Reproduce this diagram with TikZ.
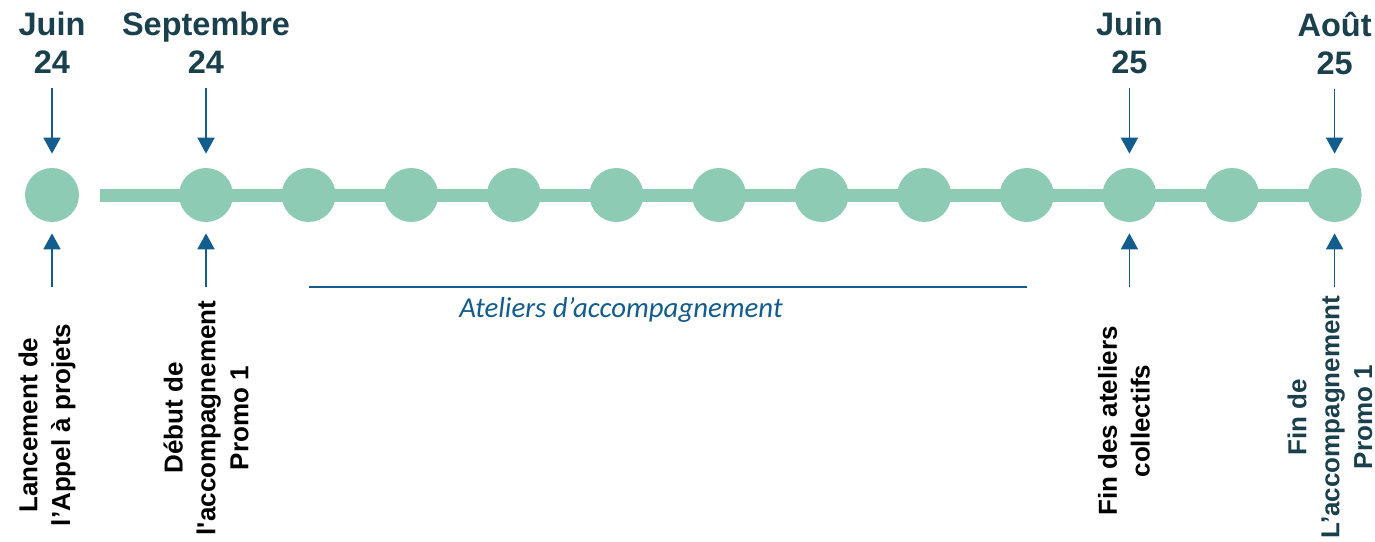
\documentclass[tikz,border=0pt]{standalone}
\usepackage{fontspec}
\setmainfont{Liberation Sans}
\newfontfamily\calibri{Carlito}
\usetikzlibrary{arrows.meta,positioning}
\definecolor{mint}{RGB}{141,203,181}
\definecolor{navy}{RGB}{27,64,77}
\definecolor{steel}{RGB}{18,92,142}
\tikzstyle{jalon} = [circle,fill=mint,inner sep=0,minimum size=1.08cm]
\tikzstyle{barre} = [draw=mint,line width=0.26cm]
\tikzstyle{date} = [font=\fontsize{18.5}{21.5}\selectfont\bfseries,text=navy,align=center,inner sep=0]
\tikzstyle{etape} = [font=\fontsize{14.8}{18.7}\selectfont\bfseries,align=center,rotate=90,inner sep=0]
\tikzstyle{fleche} = [draw=steel,line width=0.035cm,-{Triangle[width=0.34cm,length=0.32cm]}]
\tikzstyle{periode} = [draw=steel,line width=0.055cm]
\tikzstyle{atelier} = [font=\fontsize{16.4}{19}\selectfont\calibri\itshape,text=steel,inner sep=0]
\def \ecart {102.6}

\begin{document}
\begin{tikzpicture}[x=0.02cm,y=-0.02cm]
      \useasboundingbox (0,0) rectangle (1375,541);
      % ligne du temps
      \coordinate (debut) at (100,195);
      \coordinate (fin) at (1335,195);
      \draw[barre] (debut) -- (fin);
      \node[jalon] (m1) at (52,195) {};
      \foreach \i in {2,...,13}
        \node[jalon] (m\i) at ({206+(\i-2)*\ecart},195) {};
      % dates
      \node[date,anchor=north] (d1) at (m1 |- 0,12) {Juin\\24};
      \node[date,anchor=north] (d2) at (m2 |- 0,12) {Septembre\\24};
      \node[date,anchor=north] (d11) at (m11 |- 0,12) {Juin\\25};
      \node[date,anchor=north] (d13) at (m13 |- 0,12) {Août\\25};
      \foreach \i in {1,2,11,13}
        \draw[fleche,shorten <=0.28cm,shorten >=0.28cm] (d\i) -- (m\i);
      % etapes
      \foreach \i in {1,2,11,13}
        \coordinate (b\i) at (m\i |- 0,287);
      \foreach \i in {1,2,11,13}
        \draw[fleche,shorten >=0.22cm] (b\i) -- (m\i);
      \node[etape] (e1) at (47,425) {Lancement de\\l’Appel à projets};
      \node[etape] (e2) at (206,418) {Début de\\l\textquotesingle accompagnement\\Promo 1};
      \node[etape] (e11) at (1124,421) {Fin des ateliers\\collectifs};
      \node[etape,text=navy] (e13) at (1330,417) {Fin de\\L’accompagnement\\Promo 1};
      % ateliers
      \draw[periode] (m3 |- b1) -- (m10 |- b1);
      \node[atelier] (at) at (621,310) {Ateliers d’accompagnement};
    \end{tikzpicture}
\end{document}
